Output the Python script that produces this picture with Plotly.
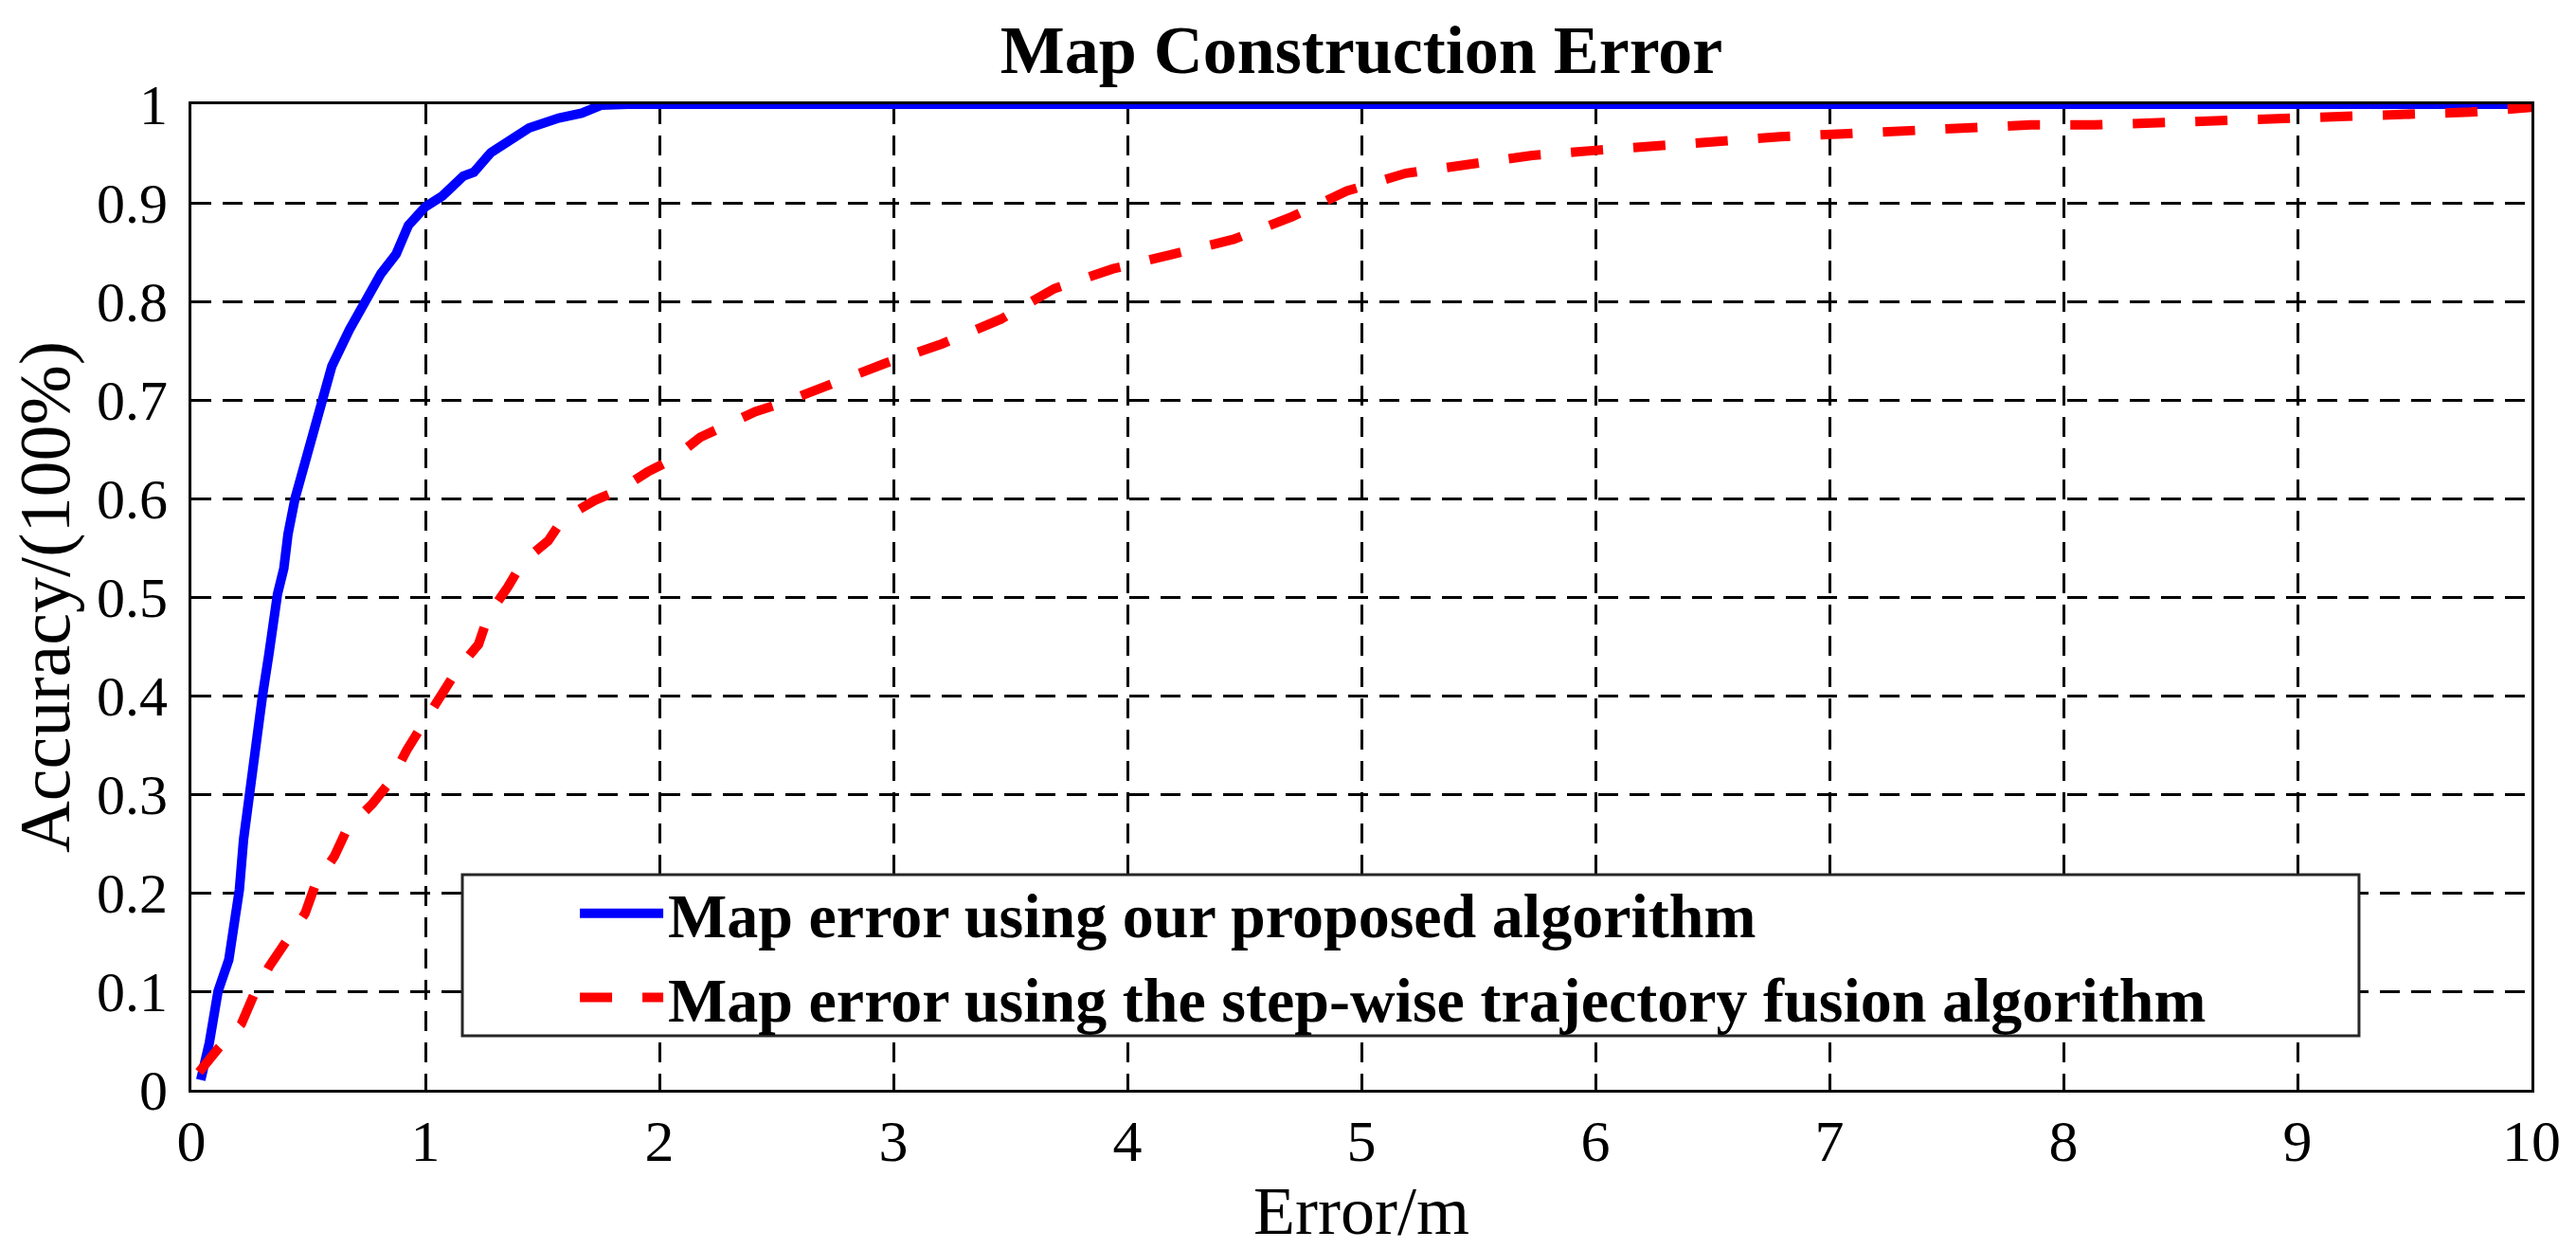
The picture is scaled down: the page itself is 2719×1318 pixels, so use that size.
import plotly.graph_objects as go

# ---- data ----
blue_x = [0.04, 0.077, 0.114, 0.16, 0.186, 0.205, 0.223, 0.25, 0.277, 0.304, 0.332,
          0.368, 0.395, 0.413, 0.443, 0.512, 0.60, 0.675, 0.765, 0.81, 0.875, 0.927,
          1.0, 1.073, 1.162, 1.207, 1.28, 1.36, 1.443, 1.57, 1.668, 1.75, 1.866, 10.0]
blue_y = [0.01, 0.048, 0.10, 0.132, 0.173, 0.203, 0.254, 0.306, 0.361, 0.40, 0.443,
          0.503, 0.529, 0.564, 0.60, 0.66, 0.734, 0.771, 0.808, 0.828, 0.848, 0.877,
          0.896, 0.907, 0.927, 0.931, 0.951, 0.964, 0.976, 0.986, 0.991, 0.999, 1.0, 1.0]

red_x = [0.033, 0.115, 0.214, 0.268, 0.332, 0.405, 0.486, 0.531, 0.611, 0.666, 0.773,
         0.854, 0.919, 0.992, 1.063, 1.136, 1.227, 1.27, 1.352, 1.417, 1.525, 1.587,
         1.723, 1.832, 1.95, 2.057, 2.174, 2.283, 2.409, 2.526, 2.717, 2.964, 3.209,
         3.46, 3.688, 3.938, 4.197, 4.455, 4.704, 4.938, 5.19, 5.46, 5.73, 5.99, 6.26,
         6.52, 6.79, 7.06, 7.33, 7.59, 7.86, 8.13, 8.40, 8.67, 8.94, 9.20, 9.47, 9.74, 10.0]
red_y = [0.018, 0.042, 0.067, 0.097, 0.125, 0.151, 0.179, 0.209, 0.237, 0.265, 0.29,
         0.314, 0.344, 0.372, 0.40, 0.426, 0.452, 0.482, 0.51, 0.536, 0.557, 0.579,
         0.598, 0.609, 0.627, 0.64, 0.662, 0.675, 0.688, 0.697, 0.715, 0.737, 0.757,
         0.782, 0.813, 0.833, 0.848, 0.863, 0.886, 0.912, 0.930, 0.940, 0.948, 0.953, 0.958,
         0.963, 0.967, 0.970, 0.973, 0.978, 0.979, 0.979, 0.981, 0.982, 0.984, 0.986, 0.988, 0.992, 0.997]

series_names = ["Map error using our proposed algorithm",
                "Map error using the step-wise trajectory fusion algorithm"]
x_ticks = list(range(0, 11))
y_ticks = [0, 0.1, 0.2, 0.3, 0.4, 0.5, 0.6, 0.7, 0.8, 0.9, 1]
y_tick_text = ["0", "0.1", "0.2", "0.3", "0.4", "0.5", "0.6", "0.7", "0.8", "0.9", "1"]

FONT = "Liberation Serif"

fig = go.Figure()
fig.add_trace(go.Scatter(x=blue_x, y=blue_y, mode="lines", name=series_names[0],
                         line=dict(color="#0000FF", width=10), cliponaxis=False))
fig.add_trace(go.Scatter(x=red_x, y=red_y, mode="lines", name=series_names[1],
                         line=dict(color="#FF0000", width=10, dash="34px,32px"),
                         cliponaxis=False))

# legend frame (white box with dark border), the native legend sits inside it
fig.add_shape(type="rect", xref="paper", yref="paper",
              x0=0.1158, x1=0.9263, y0=0.0548, y1=0.2183,
              line=dict(color="#262626", width=3), fillcolor="white", layer="above")

fig.update_layout(
    width=2719, height=1318,
    margin=dict(l=202, r=47, t=110, b=168, autoexpand=False),
    paper_bgcolor="white", plot_bgcolor="white",
    font=dict(family=FONT, color="black", size=60),
    title=dict(text="<b>Map Construction Error</b>", x=0.5285, xanchor="center",
               y=1 - 52 / 1318, yanchor="middle", yref="container",
               font=dict(family=FONT, size=72, color="black")),
    showlegend=True,
    legend=dict(x=0.164, y=0.2266, xanchor="left", yanchor="top",
                bgcolor="rgba(0,0,0,0)", borderwidth=0,
                font=dict(family=FONT, size=66, color="black", weight="bold"),
                itemwidth=88, tracegroupgap=0),
    xaxis=dict(range=[0, 10], tickvals=x_ticks, showline=True, mirror=True,
               linecolor="black", linewidth=3, showgrid=True, gridcolor="black",
               gridwidth=2.5, griddash="21px,12px", zeroline=False, ticks="",
               tickfont=dict(family=FONT, size=62), ticklabelstandoff=-2,
               layer="below traces",
               title=dict(text="Error/m", font=dict(family=FONT, size=72), standoff=13)),
    yaxis=dict(range=[0, 1], tickvals=y_ticks, ticktext=y_tick_text, showline=True,
               mirror=True, linecolor="black", linewidth=3, showgrid=True,
               gridcolor="black", gridwidth=2.5, griddash="21px,12px", zeroline=False,
               ticks="", tickfont=dict(family=FONT, size=60), ticklabelstandoff=10,
               layer="below traces",
               title=dict(text="Accuracy/(100%)", font=dict(family=FONT, size=76), standoff=4)),
)

fig.write_html("out.html", config={"displayModeBar": False},
               post_script="document.body.style.margin='0';document.body.style.overflow='hidden';")
